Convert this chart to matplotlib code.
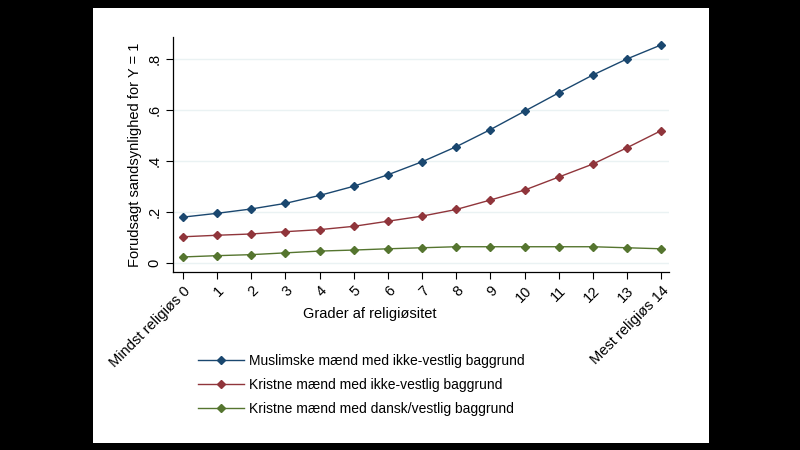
import matplotlib
matplotlib.use('Agg')
import matplotlib.pyplot as plt
from matplotlib.patches import Rectangle

plt.rcParams['font.family'] = ['Liberation Sans', 'DejaVu Sans']

# Data
grader = list(range(15))
muslimske = [0.180, 0.195, 0.212, 0.234, 0.265, 0.301, 0.346, 0.397, 0.456, 0.523,
             0.595, 0.667, 0.737, 0.800, 0.855]
kristne_ikkevest = [0.103, 0.109, 0.114, 0.123, 0.131, 0.144, 0.164, 0.184, 0.210, 0.247,
                    0.286, 0.337, 0.388, 0.452, 0.519]
kristne_dansk = [0.024, 0.029, 0.033, 0.040, 0.047, 0.051, 0.056, 0.060, 0.064, 0.064,
                 0.064, 0.064, 0.064, 0.060, 0.056]

xtick_labels = ['Mindst religiøs 0'] + [str(i) for i in range(1, 14)] + ['Mest religiøs 14']
ytick_vals = [0, 0.2, 0.4, 0.6, 0.8]
ytick_labels = ['0', '.2', '.4', '.6', '.8']

series = ['Muslimske mænd med ikke-vestlig baggrund',
          'Kristne mænd med ikke-vestlig baggrund',
          'Kristne mænd med dansk/vestlig baggrund']
colors = ['#1a476f', '#90353b', '#55752f']

fig = plt.figure(figsize=(8, 4.5), dpi=100)
fig.patch.set_facecolor('black')
# white panel behind the graph
fig.patches.append(Rectangle((93/800, 1-443/450), (709-93)/800, (443-8)/450,
                             transform=fig.transFigure, facecolor='white',
                             edgecolor='none', zorder=-1))

ax = fig.add_axes([173/800, 1-272/450, (669-173)/800, (272-37)/450])
ax.set_facecolor('white')

for ys, c, name in zip([muslimske, kristne_ikkevest, kristne_dansk], colors, series):
    ax.plot(grader, ys, color=c, lw=1.0, marker='D', ms=4.5, label=name)

ax.set_xlim(-0.29, 14.23)
ax.set_ylim(-0.035, 0.886)
ax.set_xticks(grader)
ax.set_xticklabels(xtick_labels, rotation=45, ha='right', va='top',
                   rotation_mode='anchor', fontsize=10.5)
ax.set_yticks(ytick_vals)
ax.set_yticklabels(ytick_labels, rotation=90, va='center', fontsize=10.5)
ax.tick_params(direction='out', length=5, width=0.8, color='black')
ax.grid(axis='y', color='#eaf2f3', lw=1.0)
ax.set_axisbelow(True)

for s in ['top', 'right']:
    ax.spines[s].set_visible(False)
for s in ['left', 'bottom']:
    ax.spines[s].set_linewidth(0.9)

ax.set_ylabel('Forudsagt sandsynlighed for Y = 1', fontsize=10.5, labelpad=4)
fig.text(370/800, 1-314/450, 'Grader af religiøsitet', fontsize=10.5,
         ha='center', va='center')

fig.legend(loc='upper left', bbox_to_anchor=(198/800, 1-354/450), frameon=False,
           borderpad=0, borderaxespad=0, fontsize=10, handlelength=3.3,
           handletextpad=0.4, labelspacing=0.72)

fig.savefig('out.png', dpi=100, facecolor=fig.get_facecolor())
